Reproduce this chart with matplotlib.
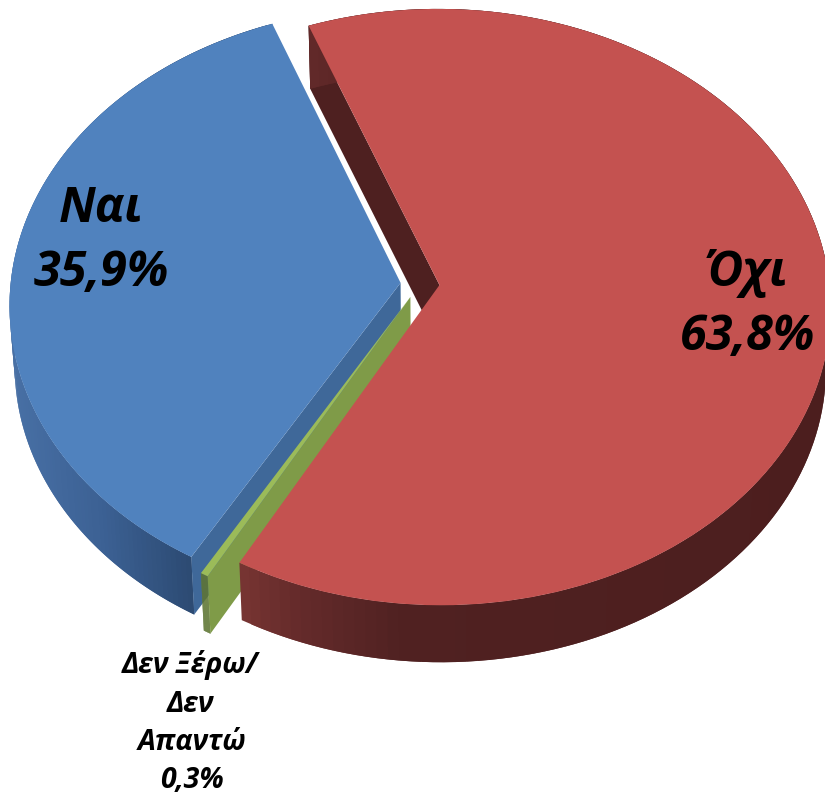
import numpy as np
import matplotlib
matplotlib.use("Agg")
import matplotlib.pyplot as plt
from matplotlib.collections import PolyCollection
from matplotlib.transforms import Transform

# Survey answers, in the order they go round the pie
categories = ["Όχι", "Δεν Ξέρω/Δεν Απαντώ", "Ναι"]
values = [63.8, 0.3, 35.9]
value_labels = ["63,8%", "0,3%", "35,9%"]

top_colors = ["#C45250", "#9BBB59", "#5082BE"]
cut_colors = ["#4E2020", "#7F9B48", "#3F6899"]

# wall shading along x (pixels), one row per slice
wall_x = [10, 100, 192, 243, 300, 400, 825]
wall_red = [(118, 52, 50), (118, 52, 50), (118, 52, 50), (118, 52, 50), (100, 42, 42), (80, 33, 33), (76, 30, 30)]
wall_green = [(101, 125, 58)] * 7
wall_blue = [(72, 112, 165), (60, 97, 148), (44, 74, 114), (44, 74, 114), (44, 74, 114), (44, 74, 114), (44, 74, 114)]
wall_colors = [wall_red, wall_green, wall_blue]


class Tilt(Transform):
    # flat pie plane -> picture pixels, seen from above with a bit of perspective
    input_dims = 2
    output_dims = 2
    is_affine = False

    def transform_non_affine(self, xy):
        xy = np.asarray(xy, dtype=float)
        w = 1 + 0.0738 * xy[:, 1]
        return np.column_stack([420 + 390 * xy[:, 0] / w, 284 - 296.4 * xy[:, 1] / w])


def drop(pts):
    # same points on the lower face of the disc
    out = pts.copy()
    out[:, 0] += -0.012 * (pts[:, 0] - 440)
    out[:, 1] += 63.3 - 0.0103 * pts[:, 1]
    return out


fig = plt.figure(figsize=(8.25, 7.94), dpi=100)
ax = fig.add_axes([0, 0, 1, 1])

wedges, _ = ax.pie(values, explode=[0.05, 0.05, 0.05], startangle=110.8, counterclock=False,
                   colors=top_colors, radius=1, wedgeprops={"linewidth": 0})

tilt = Tilt()
for w in wedges:
    w.set_transform(tilt + ax.transData)
    w.set_zorder(10)

# walls and cut faces, back to front: blue, green, red
for i, z in [(2, 3), (1, 4), (0, 5)]:
    w = wedges[i]
    c = np.array(w.center)
    t = np.radians(np.linspace(w.theta1, w.theta2, 150))
    rim = tilt.transform(np.column_stack([c[0] + np.cos(t), c[1] + np.sin(t)]))
    low = drop(rim)
    # each quad runs over the next one so no seams show
    quads = [[rim[k], rim[min(k + 2, len(t) - 1)], low[min(k + 2, len(t) - 1)], low[k]] for k in range(len(t) - 1)]
    shades = np.array(wall_colors[i]) / 255
    mid = (rim[:-1, 0] + rim[1:, 0]) / 2
    fc = np.column_stack([np.interp(mid, wall_x, shades[:, j]) for j in range(3)])
    ax.add_collection(PolyCollection(quads, facecolors=fc, edgecolors="none", zorder=z))

    # cut face at theta2; the red one sits at the back
    apex = tilt.transform(c.reshape(1, 2))
    face = np.vstack([apex, rim[-1:], low[-1:], drop(apex)])
    ax.fill(face[:, 0], face[:, 1], color=cut_colors[i], lw=0, zorder=1 if i == 0 else z + 0.5)

ax.set_aspect("auto")
ax.set_xlim(0, 825)
ax.set_ylim(794, 0)
ax.axis("off")

font = {"family": "Open Sans", "weight": "bold", "style": "italic", "color": "black",
        "ha": "center", "va": "center", "zorder": 20}
ax.text(101, 209, categories[2], fontsize=35, **font)
ax.text(101, 273, value_labels[2], fontsize=35, **font)
ax.text(746, 273, categories[0], fontsize=35, **font)
ax.text(748, 337, value_labels[0], fontsize=35, **font)

small = categories[1].replace("/", "/ ").split(" ")
ax.text(190, 665, small[0] + " " + small[1], fontsize=20.5, **font)
ax.text(190, 704, small[2], fontsize=20.5, **font)
ax.text(192, 743, small[3], fontsize=20.5, **font)
ax.text(192, 780, value_labels[1], fontsize=20.5, **font)

fig.savefig("out.png", dpi=100)
